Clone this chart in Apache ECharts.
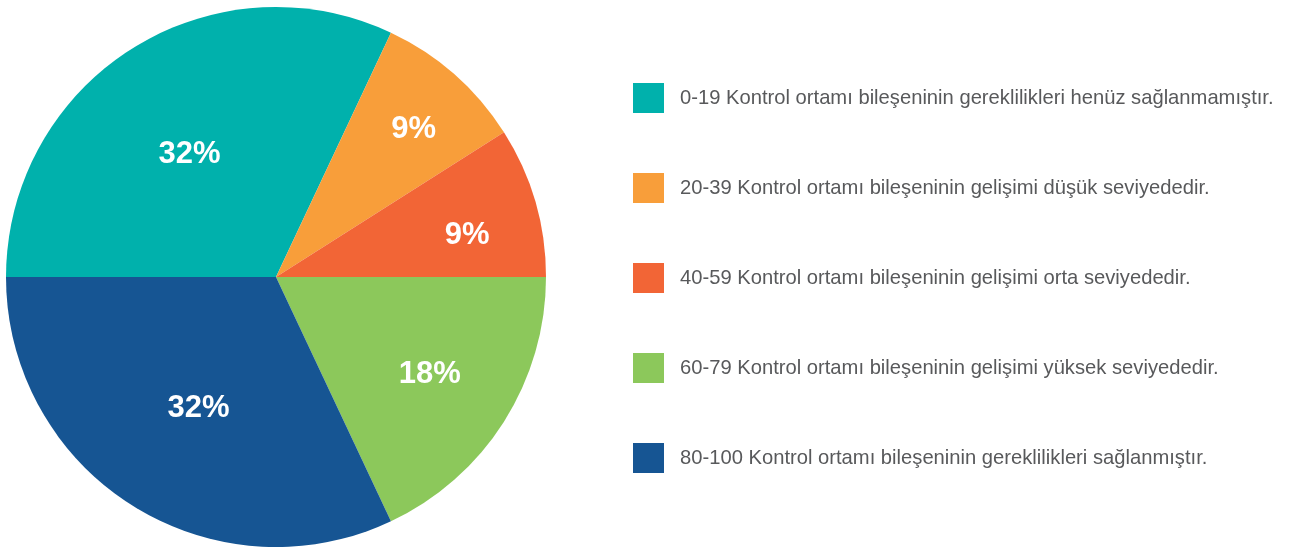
<!DOCTYPE html>
<html>
<head>
<meta charset="utf-8">
<script src="https://cdn.jsdelivr.net/npm/echarts@6/dist/echarts.min.js"></script>
<style>
  html, body { margin: 0; padding: 0; background: #fff; }
  #chart { width: 1298px; height: 547px; }
</style>
</head>
<body>
<div id="chart"></div>
<script>
// data
var categories = [
  '0-19 Kontrol ortamı bileşeninin gereklilikleri henüz sağlanmamıştır.',
  '20-39 Kontrol ortamı bileşeninin gelişimi düşük seviyededir.',
  '40-59 Kontrol ortamı bileşeninin gelişimi orta seviyededir.',
  '60-79 Kontrol ortamı bileşeninin gelişimi yüksek seviyededir.',
  '80-100 Kontrol ortamı bileşeninin gereklilikleri sağlanmıştır.'
]
var values = [32, 9, 9, 18, 32]
var colors = ['#00B1AC', '#F89E3A', '#F26536', '#8CC85B', '#165593']

// where each percent label sits: distance from centre + small nudge
var labelDist = [151, 202, 195, 179, 149]
var labelNudge = [[-4, 7], [2, 6], [1, 14], [0, 0], [4, 3]]

var center = [276, 277]
var chart = echarts.init(document.getElementById('chart'))

var series = [{
  type: 'pie',
  center: center,
  radius: [0, 270],
  startAngle: 180,
  clockwise: true,
  silent: true,
  label: { show: false },
  labelLine: { show: false },
  itemStyle: { borderWidth: 0 },
  data: categories.map(function (c, i) {
    return { name: c, value: values[i], itemStyle: { color: colors[i] } }
  })
}]

// transparent overlays, one per slice, only used to place the labels
labelDist.forEach(function (d, k) {
  series.push({
    type: 'pie',
    center: center,
    radius: [0, d * 2],
    startAngle: 180,
    clockwise: true,
    silent: true,
    z: 5,
    legendHoverLink: false,
    labelLine: { show: false },
    itemStyle: { color: 'rgba(0,0,0,0)', borderWidth: 0 },
    labelLayout: { dx: labelNudge[k][0], dy: labelNudge[k][1] },
    data: categories.map(function (c, i) {
      return {
        name: c,
        value: values[i],
        label: {
          show: i === k,
          position: 'inside',
          formatter: values[i] + '%',
          color: '#fff',
          fontSize: 31,
          fontWeight: 'bold',
          fontFamily: 'Liberation Sans'
        }
      }
    })
  })
})

var option = {
  animation: false,
  color: colors,
  legend: {
    orient: 'vertical',
    left: 628,
    top: 78,
    itemWidth: 31,
    itemHeight: 30,
    itemGap: 60,
    icon: 'rect',
    selectedMode: false,
    data: categories,
    textStyle: {
      color: '#58595B',
      fontSize: 20.2,
      fontFamily: 'Liberation Sans',
      padding: [2, 0, 0, 11]
    }
  },
  series: series
}

chart.setOption(option)
</script>
</body>
</html>
